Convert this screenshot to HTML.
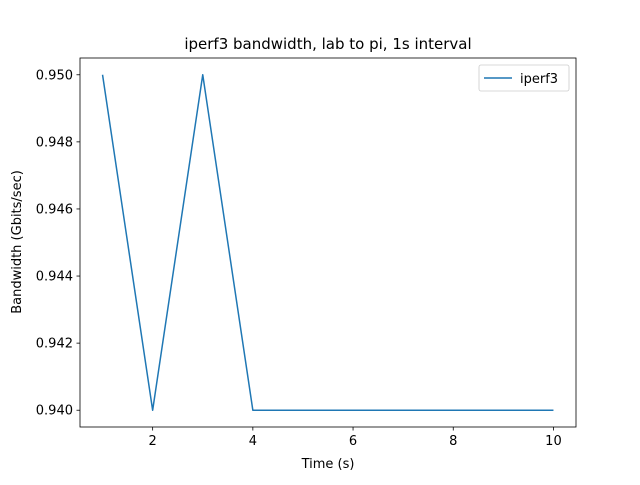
<!DOCTYPE html>
<html><head><meta charset="utf-8"><style>
body{margin:0;background:#fff;}
svg text{font-family:"DejaVu Sans","Liberation Sans",sans-serif;fill:#000;}
</style></head><body>
<svg id="chart" width="640" height="480" xmlns="http://www.w3.org/2000/svg">
<rect width="640" height="480" fill="#fff"/>
<text x="328" y="49" font-size="15" text-anchor="middle">iperf3 bandwidth, lab to pi, 1s interval</text>
<g id="axes"></g>
<text x="328" y="468" font-size="13" text-anchor="middle">Time (s)</text>
<text transform="translate(21,242) rotate(-90)" font-size="13" text-anchor="middle">Bandwidth (Gbits/sec)</text>
</svg>
<script>
const times=[1,2,3,4,5,6,7,8,9,10];
const bandwidth=[0.95,0.94,0.95,0.94,0.94,0.94,0.94,0.94,0.94,0.94];
const xTicks=[2,4,6,8,10];
const yTicks=[0.940,0.942,0.944,0.946,0.948,0.950];
const L=80,R=576,T=58,B=427;
const xmin=0.55,xmax=10.45,ymin=0.9395,ymax=0.9505;
const sx=v=>L+(v-xmin)/(xmax-xmin)*(R-L);
const sy=v=>B-(v-ymin)/(ymax-ymin)*(B-T);
const ns="http://www.w3.org/2000/svg";
const g=document.getElementById('axes');
function mk(t,a){const e=document.createElementNS(ns,t);for(const k in a)e.setAttribute(k,a[k]);g.appendChild(e);return e;}
xTicks.forEach(v=>{
 const x=sx(v);
 const l=mk('line',{x1:x,x2:x,y1:B,y2:B+3.5,stroke:'#000','stroke-width':0.8});
 
 
 const t=mk('text',{x:x,y:B+18,'font-size':13,'text-anchor':'middle'});t.textContent=v;
 
 
});
yTicks.forEach(v=>{
 const y=sy(v);
 const l=mk('line',{x1:L-3.5,x2:L,y1:y,y2:y,stroke:'#000','stroke-width':0.8});
 
 
 const t=mk('text',{x:L-7,y:y+4.5,'font-size':13,'text-anchor':'end'});t.textContent=v.toFixed(3);
 
 
});
const p=mk('polyline',{points:times.map((t,i)=>sx(t)+','+sy(bandwidth[i])).join(' '),fill:'none',stroke:'#1f77b4','stroke-width':1.5,'stroke-linejoin':'round'});


const f=mk('rect',{x:L,y:T,width:R-L,height:B-T,fill:'none',stroke:'#000','stroke-width':0.8});


const lg=mk('rect',{x:479,y:65,width:90,height:26,fill:'#fff',stroke:'#ccc','stroke-width':0.8,rx:2});


const ll=mk('line',{x1:484,x2:512,y1:78,y2:78,stroke:'#1f77b4','stroke-width':1.5});


const lt=mk('text',{x:520,y:83,'font-size':13});lt.textContent='iperf3';


</script>
</body></html>
